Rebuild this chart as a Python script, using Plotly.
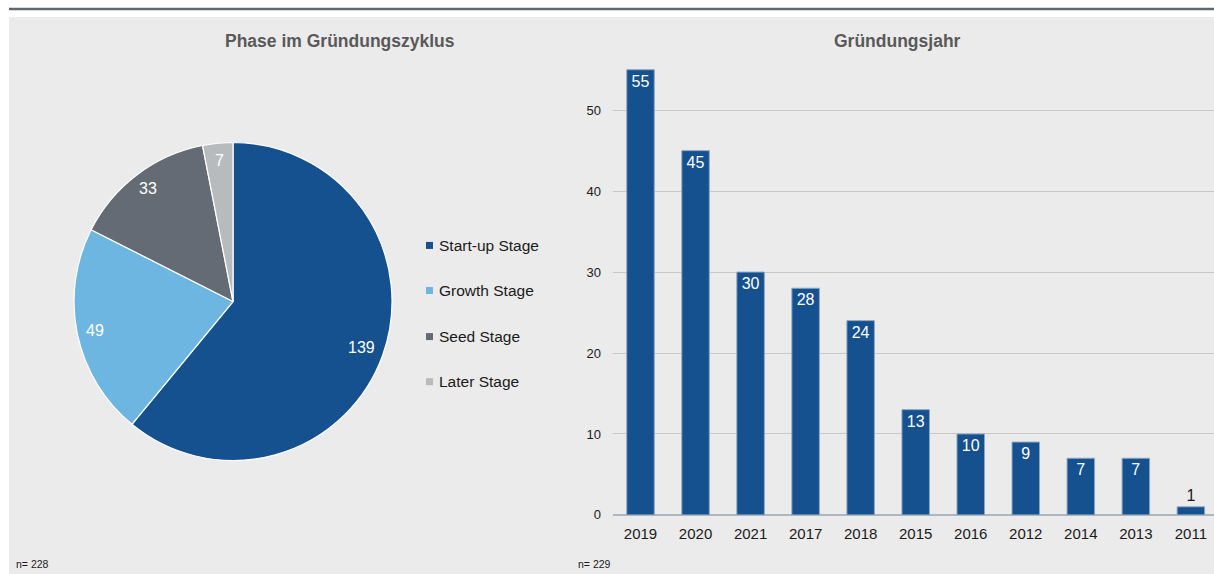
import math
import plotly.graph_objects as go

# Phase im Gründungszyklus
stages = ["Start-up Stage", "Growth Stage", "Seed Stage", "Later Stage"]
stage_counts = [139, 49, 33, 7]
stage_colors = ["#15508f", "#6db6e1", "#656b74", "#b7bbbe"]

# Gründungsjahr
years = ["2019", "2020", "2021", "2017", "2018", "2015", "2016", "2012", "2014", "2013", "2011"]
year_counts = [55, 45, 30, 28, 24, 13, 10, 9, 7, 7, 1]
y_ticks = [0, 10, 20, 30, 40, 50]

W = 1214
H = 583        # figure height
H_GRID = 574   # vertical grid used for placing elements
FONT = "Liberation Sans"
BAR_BLUE = "#15508f"


def fx(px):
    return px / W


def fy(py):
    return 1 - py / H_GRID


fig = go.Figure()

# pie geometry
cx, cy, R = 233, 301, 159
fig.add_trace(go.Pie(
    labels=stages, values=stage_counts, sort=False, direction="clockwise", rotation=0,
    marker=dict(colors=stage_colors, line=dict(color="#ffffff", width=1.2)),
    textinfo="none", hoverinfo="label+value", showlegend=False,
    domain=dict(x=[fx(cx - R), fx(cx + R)], y=[fy(cy + R), fy(cy - R)]),
))

# value labels placed at the middle angle of each slice
total = sum(stage_counts)
cum = 0
annotations = []
for v in stage_counts:
    mid = (cum + v / 2) / total * 2 * math.pi
    cum += v
    rr = 0.86 * R if v / total > 0.5 else 0.89 * R
    px = cx + rr * math.sin(mid)
    py = cy - rr * math.cos(mid)
    annotations.append(dict(x=fx(px), y=fy(py), xref="paper", yref="paper",
                            xanchor="center", yanchor="middle",
                            text=str(v), showarrow=False,
                            font=dict(family=FONT, size=16, color="#ffffff")))

# legend drawn as squares with labels
shapes = []
leg_y = [245, 290, 336, 381]
for name, col, ly in zip(stages, stage_colors, leg_y):
    shapes.append(dict(type="rect", xref="paper", yref="paper",
                       x0=fx(426), x1=fx(433), y0=fy(ly + 3.5), y1=fy(ly - 3.5),
                       fillcolor=col, line=dict(width=0)))
    annotations.append(dict(x=fx(437), y=fy(ly), xref="paper", yref="paper",
                            xanchor="left", yanchor="middle", text=name, showarrow=False,
                            font=dict(family=FONT, size=15.5, color="#1a1a1a")))

# bar chart
text_pos = ["inside" if v > 3 else "outside" for v in year_counts]
text_col = ["#ffffff" if v > 3 else "#1a1a1a" for v in year_counts]
fig.add_trace(go.Bar(
    x=years, y=year_counts, xaxis="x", yaxis="y",
    marker=dict(color=BAR_BLUE, line=dict(color="#8fa6c2", width=1)),
    text=[str(v) for v in year_counts], textposition=text_pos,
    insidetextanchor="end", constraintext="none", cliponaxis=False,
    textfont=dict(family=FONT, size=16, color=text_col),
    showlegend=False,
))

# panel background and top rule
shapes.insert(0, dict(type="rect", xref="paper", yref="paper", x0=fx(9), x1=1, y0=0, y1=fy(17),
                      fillcolor="#ebebeb", line=dict(width=0), layer="below"))
shapes.append(dict(type="line", xref="paper", yref="paper", x0=fx(9), x1=1,
                   y0=fy(9), y1=fy(9), line=dict(color="#5f6770", width=2.5)))

# titles and sample sizes
annotations += [
    dict(x=fx(340), y=fy(41), xref="paper", yref="paper", xanchor="center", yanchor="middle",
         text="<b>Phase im Gründungszyklus</b>",
         showarrow=False, font=dict(family=FONT, size=17.5, color="#595959")),
    dict(x=fx(897), y=fy(41), xref="paper", yref="paper", xanchor="center", yanchor="middle",
         text="<b>Gründungsjahr</b>",
         showarrow=False, font=dict(family=FONT, size=17.5, color="#595959")),
    dict(x=fx(14), y=fy(563), xref="paper", yref="paper", xanchor="left", yanchor="middle",
         text="n= 228", showarrow=False, font=dict(family=FONT, size=10.5, color="#1a1a1a")),
    dict(x=fx(576), y=fy(563), xref="paper", yref="paper", xanchor="left", yanchor="middle",
         text="n= 229", showarrow=False, font=dict(family=FONT, size=10.5, color="#1a1a1a")),
]

x0_px = 613
y0_px = 514
px_per_unit = 8.08
y_top = 60
fig.update_layout(
    width=W, height=H, autosize=False, margin=dict(l=0, r=0, t=0, b=0),
    paper_bgcolor="#ffffff", plot_bgcolor="rgba(0,0,0,0)",
    bargap=0.5, shapes=shapes, annotations=annotations,
    xaxis=dict(domain=[fx(x0_px), 1], range=[-0.5, 10.42], type="category",
               showgrid=False, ticks="", showline=False, zeroline=False,
               tickfont=dict(family=FONT, size=15, color="#1a1a1a"), ticklabelstandoff=8),
    yaxis=dict(domain=[fy(y0_px), fy(y0_px - y_top * px_per_unit)], range=[0, y_top],
               tickvals=y_ticks, showgrid=True, gridcolor="#c6c9cc", gridwidth=1,
               zeroline=True, zerolinecolor="#aeb6bf", zerolinewidth=1.5,
               ticks="", showline=False, ticklabelstandoff=11,
               tickfont=dict(family=FONT, size=13, color="#1a1a1a")),
    font=dict(family=FONT),
)

fig.write_html("out.html")
